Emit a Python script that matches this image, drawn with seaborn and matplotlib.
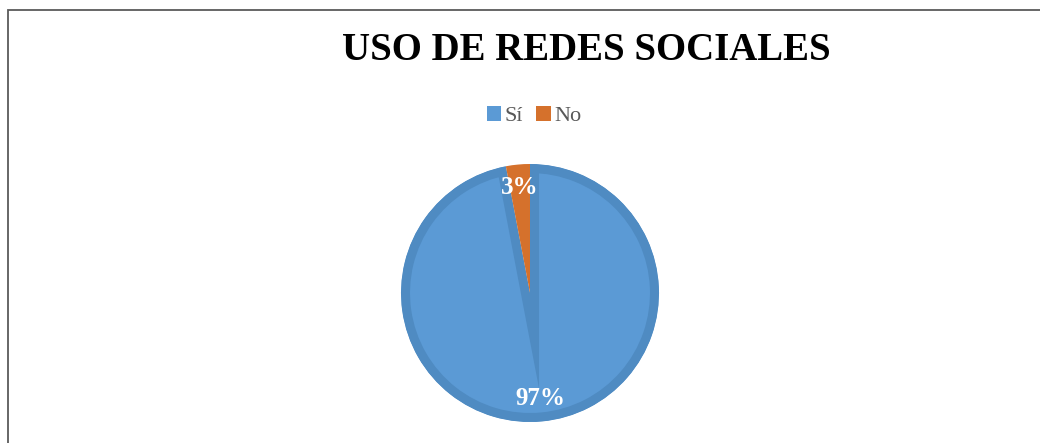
import matplotlib
matplotlib.use("Agg")
import matplotlib.pyplot as plt
import matplotlib.patches as mpatches
import seaborn as sns

# Datos del gráfico
categorias = ["Sí", "No"]
porcentajes = [97, 3]
titulo = "USO DE REDES SOCIALES"

sns.set_theme(style="white")
plt.rcParams["font.family"] = ["Liberation Serif", "DejaVu Serif"]

colores = ["#5B9AD5", "#D5712C"]
borde = "#4F8BC2"

W, H = 1040, 443
fig = plt.figure(figsize=(W / 100, H / 100), dpi=100)

# Marco del gráfico (solo se ven el borde superior e izquierdo)
marco = mpatches.Rectangle((8 / W, -0.2), 1.2, 1.2 - 10 / H,
                           transform=fig.transFigure, fill=False,
                           edgecolor="#5a5a5a", linewidth=1.3)
fig.patches.append(marco)

# Titulo
fig.text(586 / W, 1 - 50 / H, titulo, ha="center", va="center",
         fontsize=28, fontweight="bold", color="black")

# Pastel
cx, cy, half = 530, 293, 135
ax = fig.add_axes([(cx - half) / W, (H - cy - half) / H, 2 * half / W, 2 * half / H])
wedges, textos, autotextos = ax.pie(
    porcentajes, colors=colores, startangle=90, counterclock=False,
    radius=129 / half, autopct="%1.0f%%", pctdistance=0.82,
    wedgeprops=dict(edgecolor=borde, linewidth=13),
    textprops=dict(color="white", fontsize=18, fontweight="bold"))
# borde solo por dentro de la porcion azul, la naranja sin borde
wedges[0].set_clip_on(True)
wedges[0].set_clip_path(wedges[0])
wedges[1].set_edgecolor("none")
ax.set_xlim(-1, 1)
ax.set_ylim(-1, 1)
ax.set_aspect("equal")
ax.axis("off")

# Leyenda
handles = [mpatches.Patch(facecolor=c, edgecolor="none", label=l)
           for c, l in zip(colores, categorias)]
fig.legend(handles=handles, loc="center", bbox_to_anchor=(534 / W, 1 - 116 / H),
           ncol=2, frameon=False, fontsize=16, handlelength=0.65, handleheight=0.65,
           handletextpad=0.15, columnspacing=0.6, labelcolor="#595959")

fig.savefig("out.png", dpi=100)
